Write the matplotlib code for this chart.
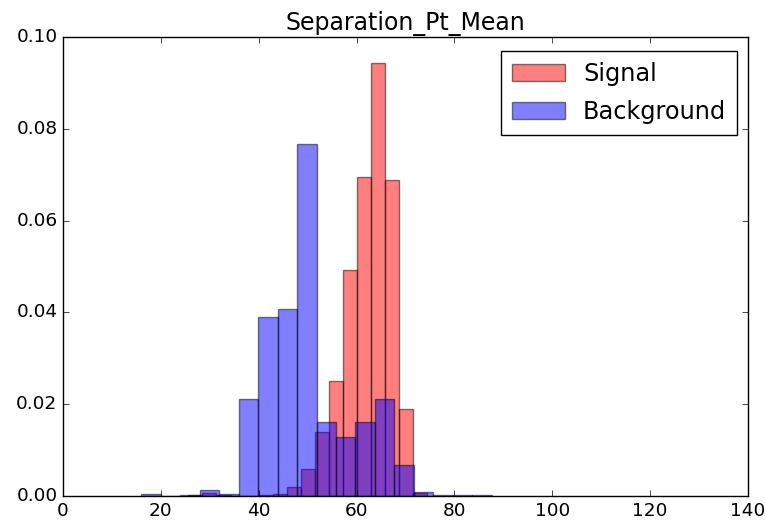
import numpy as np
import matplotlib
matplotlib.use("Agg")
import matplotlib.pyplot as plt

plt.style.use("classic")

# Normalised histogram contents for the two samples
signal_edge_start = 25.63
signal_bin_width = 2.87
signal_density = [0.0003, 0.0007, 0.0002, 0.0, 0.0001, 0.0002, 0.0004, 0.0020,
                  0.0059, 0.0140, 0.0251, 0.0492, 0.0694, 0.0944, 0.0688,
                  0.0189, 0.0006]

background_edge_start = 16.0
background_bin_width = 3.98
background_density = [0.0005, 0.0001, 0.0003, 0.0013, 0.0004, 0.0211, 0.0391,
                      0.0407, 0.0766, 0.0162, 0.0129, 0.0162, 0.0211, 0.0068,
                      0.0009, 0.0003, 0.0003, 0.0002]

title = "Separation_Pt_Mean"
labels = ["Signal", "Background"]
x_ticks = [0, 20, 40, 60, 80, 100, 120, 140]
y_ticks = [0.00, 0.02, 0.04, 0.06, 0.08, 0.10]


def edges_of(start, width, n):
    return start + width * np.arange(n + 1)


sig_edges = edges_of(signal_edge_start, signal_bin_width, len(signal_density))
bkg_edges = edges_of(background_edge_start, background_bin_width, len(background_density))

fig = plt.figure(figsize=(7.65, 5.24), dpi=100, facecolor="white")
ax = fig.add_axes([63 / 765, 1 - 496 / 524, (748 - 63) / 765, (496 - 37) / 524])

ax.hist(0.5 * (sig_edges[:-1] + sig_edges[1:]), bins=sig_edges,
        weights=signal_density, color="r", alpha=0.5, label=labels[0],
        edgecolor="black", linewidth=1.0)
ax.hist(0.5 * (bkg_edges[:-1] + bkg_edges[1:]), bins=bkg_edges,
        weights=background_density, color="b", alpha=0.5, label=labels[1],
        edgecolor="black", linewidth=1.0)

ax.set_xlim(0, 140)
ax.set_ylim(0, 0.10)
ax.set_xticks(x_ticks)
ax.set_yticks(y_ticks)
ax.set_yticklabels([f"{v:.2f}" for v in y_ticks])
ax.tick_params(labelsize=13.3, direction="in", top=True, right=True)
ax.set_title(title, fontsize=17)

leg = ax.legend(loc="upper right", fontsize=17.3, fancybox=False,
                bbox_to_anchor=(737 / 765, 1 - 51 / 524),
                bbox_transform=fig.transFigure, borderaxespad=0.0,
                handlelength=2.2, labelspacing=0.6,
                handletextpad=0.75, borderpad=0.45)
leg.get_frame().set_edgecolor("black")

fig.savefig("out.png", dpi=100, facecolor="white")
